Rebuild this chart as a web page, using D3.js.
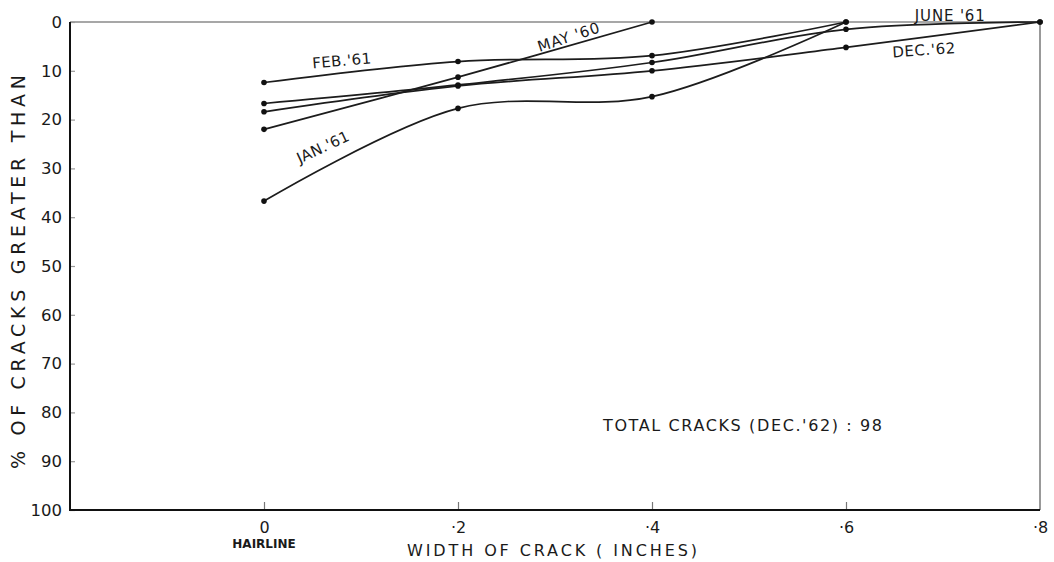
<!DOCTYPE html>
<html>
<head>
<meta charset="utf-8">
<script src="https://cdn.jsdelivr.net/npm/d3@7"></script>
<style>
  body { margin: 0; background: #fff; }
  svg { display: block; font-family: "DejaVu Sans", sans-serif; }
</style>
</head>
<body>
<div id="graph"></div>
<script>
// crack width (inches) at which each count was read
const widths = [0, 0.2, 0.4, 0.6, 0.8];
const xTickLabels = ["0", "·2", "·4", "·6", "·8"];
const yTicks = [0, 10, 20, 30, 40, 50, 60, 70, 80, 90, 100];

// % of cracks greater than the width, one survey per array
const may60 = [22.0, 11.3, 0];
const feb61 = [12.4, 8.1, 6.9, 0];
const jan61 = [36.7, 17.7, 15.3, 0];
const june61 = [16.7, 12.9, 8.3, 1.5, 0];
const dec62 = [18.4, 13.1, 10.0, 5.2, 0];

const seriesNames = ["MAY '60", "FEB.'61", "JAN.'61", "JUNE '61", "DEC.'62"];
const seriesValues = [may60, feb61, jan61, june61, dec62];

const totalCracks = 98;

const width = 1054;
const height = 562;
const marginLeft = 70;
const marginRight = 14;
const marginTop = 22;
const marginBottom = 52;

const x = d3.scaleLinear()
            .domain([-0.2, 0.8])
            .range([marginLeft, width - marginRight])

const y = d3.scaleLinear()
            .domain([0, 100])
            .range([marginTop, height - marginBottom])

const svg = d3.create("svg")
              .attr("width", width)
              .attr("height", height)
              .attr("viewBox", `0 0 ${width} ${height}`)

// frame: top and right are faint, left and bottom are the real axes
svg.append("line")
   .attr("x1", x(-0.2)).attr("x2", x(0.8))
   .attr("y1", y(0)).attr("y2", y(0))
   .attr("stroke", "#8a8a8a")
   .attr("stroke-width", 1.3)

svg.append("line")
   .attr("x1", x(0.8)).attr("x2", x(0.8))
   .attr("y1", y(0)).attr("y2", y(100))
   .attr("stroke", "#555")
   .attr("stroke-width", 1.2)

const yAxis = d3.axisLeft(y)
                .tickValues(yTicks)
                .tickSize(-5)
                .tickPadding(8)

const gy = svg.append("g")
   .attr("id", "y-axis")
   .attr("transform", `translate(${marginLeft}, 0)`)
   .call(yAxis)

gy.select(".domain").remove()
gy.selectAll(".tick line").attr("stroke", "#999").attr("stroke-width", 1.2)
gy.selectAll(".tick text")
  .attr("font-size", 16.5)
  .attr("fill", "#1a1a1a")
  .attr("font-family", "DejaVu Sans")

const xAxis = d3.axisBottom(x)
                .tickValues(widths)
                .tickFormat((d, i) => xTickLabels[i])
                .tickSize(-8)
                .tickPadding(12)

const gx = svg.append("g")
   .attr("id", "x-axis")
   .attr("transform", `translate(0, ${y(100)})`)
   .call(xAxis)

gx.select(".domain").remove()
gx.selectAll(".tick line").attr("stroke", "#777").attr("stroke-width", 1.2)
gx.selectAll(".tick text")
  .attr("font-size", 16)
  .attr("fill", "#1a1a1a")
  .attr("font-family", "DejaVu Sans")

// the .8 tick sits on the right frame line, no mark needed
gx.selectAll(".tick line").filter(d => d === 0.8).remove()

svg.append("path")
   .attr("d", `M${x(-0.2)},${y(0)} V${y(100)} H${x(0.8)}`)
   .attr("fill", "none")
   .attr("stroke", "#111")
   .attr("stroke-width", 2)

svg.append("text")
   .attr("x", x(0))
   .attr("y", y(100) + 38)
   .attr("text-anchor", "middle")
   .attr("font-size", 12)
   .attr("font-weight", "bold")
   .attr("fill", "#1a1a1a")
   .text("HAIRLINE")

svg.append("text")
   .attr("x", 552)
   .attr("y", height - 6)
   .attr("text-anchor", "middle")
   .attr("font-size", 16)
   .attr("fill", "#1a1a1a")
   .attr("textLength", 290)
   .attr("lengthAdjust", "spacing")
   .text("WIDTH OF CRACK ( INCHES)")

svg.append("text")
   .attr("transform", `translate(25, ${(y(0) + y(100)) / 2 + 6}) rotate(-90)`)
   .attr("text-anchor", "middle")
   .attr("font-size", 19)
   .attr("fill", "#1a1a1a")
   .attr("textLength", 394)
   .attr("lengthAdjust", "spacing")
   .text("% OF CRACKS GREATER THAN")

const line = d3.line()
               .x(d => x(d[0]))
               .y(d => y(d[1]))
               .curve(d3.curveCatmullRom.alpha(0.5))

const series = seriesValues.map((vals, i) => ({
   name: seriesNames[i],
   points: vals.map((v, j) => [widths[j], v])
}))

svg.append("g")
   .selectAll("path")
   .data(series)
   .join("path")
   .attr("d", d => line(d.points))
   .attr("fill", "none")
   .attr("stroke", "#1c1c1c")
   .attr("stroke-width", 1.7)

svg.append("g")
   .selectAll("circle")
   .data(series.flatMap(s => s.points))
   .join("circle")
   .attr("cx", d => x(d[0]))
   .attr("cy", d => y(d[1]))
   .attr("r", 2.8)
   .attr("fill", "#111")

// hand lettered names along each curve
const curveLabels = [
   { name: "FEB.'61", at: [0.0805, 9.0], angle: -5, len: 59 },
   { name: "JAN.'61", at: [0.063, 26.6], angle: -25, len: 56 },
   { name: "MAY '60", at: [0.3155, 4.1], angle: -18, len: 64 },
   { name: "JUNE '61", at: [0.707, -0.2], angle: 0, len: 70 },
   { name: "DEC.'62", at: [0.6805, 6.8], angle: -4, len: 63 }
]

svg.append("g")
   .selectAll("text")
   .data(curveLabels)
   .join("text")
   .attr("transform", d => `translate(${x(d.at[0])}, ${y(d.at[1])}) rotate(${d.angle})`)
   .attr("text-anchor", "middle")
   .attr("font-size", 15)
   .attr("fill", "#1a1a1a")
   .attr("textLength", d => d.len)
   .attr("lengthAdjust", "spacing")
   .text(d => d.name)

svg.append("text")
   .attr("x", x(0.3495))
   .attr("y", y(83.8))
   .attr("font-size", 16)
   .attr("fill", "#1a1a1a")
   .attr("textLength", 279)
   .attr("lengthAdjust", "spacing")
   .text(`TOTAL CRACKS (DEC.'62) : ${totalCracks}`)

document.getElementById("graph").append(svg.node());
</script>
</body>
</html>
